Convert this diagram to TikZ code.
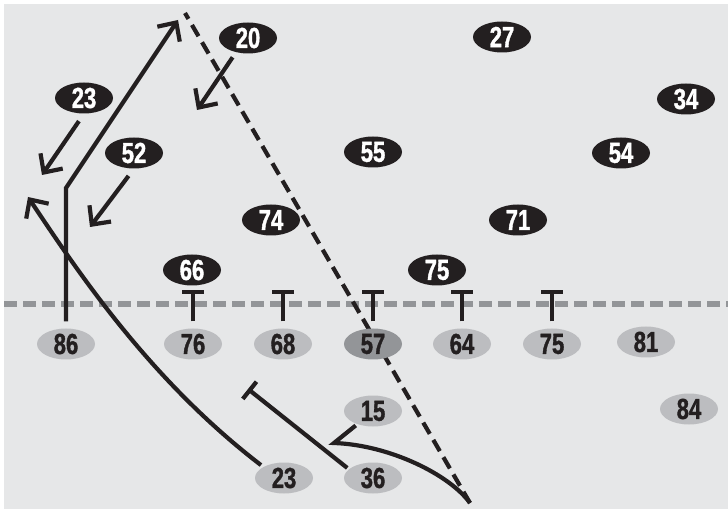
\documentclass[tikz,border=0pt]{standalone}
\usepackage{fontspec}
\usepackage{xcolor}
\definecolor{fieldgray}{RGB}{230, 231, 232}
\definecolor{playergray}{RGB}{188, 189, 192}
\definecolor{snapgray}{RGB}{147, 149, 152}
\definecolor{inkblack}{RGB}{35, 31, 32}
\newfontfamily\numfont[FakeStretch=0.76, FakeBold=1.2]{Liberation Sans}
\usetikzlibrary{arrows.meta, shapes.geometric, calc}

\begin{document}
\begin{tikzpicture}[
    x=1pt, y=-1pt,
    man/.style={ellipse, inner sep=0pt, minimum width=58pt, minimum height=31pt, font=\numfont\bfseries\fontsize{29}{29}\selectfont},
    defender/.style={man, fill=inkblack, text=white},
    player/.style={man, fill=playergray, text=inkblack},
    snapper/.style={man, fill=snapgray, text=inkblack},
    route/.style={draw=inkblack, line width=4.2pt, -{Straight Barb[length=14pt, width=27pt]}},
    block/.style={draw=inkblack, line width=4.2pt, -{Bar[width=22pt, line width=4.2pt]}},
    pass/.style={draw=inkblack, line width=4.2pt, dash pattern=on 13pt off 7pt},
    scrimmage/.style={draw=snapgray, line width=6pt, dash pattern=on 13pt off 6pt}
]

% Field
\useasboundingbox (0,0) rectangle (728,510);
\fill[white] (0,0) rectangle (728,510);
\fill[fieldgray] (4,4) rectangle (728,509);
\draw[scrimmage] (4,304) -- (728,304);

% Free ends
\coordinate (brk) at (66,188);
\coordinate (deep) at (178,20);
\coordinate (target) at (185,13);
\coordinate (qb) at (470,503);
\coordinate (kink) at (334,443);
\coordinate (flat) at (28,197);
\coordinate (lead) at (248,389);
\coordinate (z20) at (197,110);
\coordinate (z23) at (42,175);
\coordinate (z52) at (90,227);

% Pass lane
\draw[pass] (qb) -- (target);

% Defense
\node[defender] (d20) at (248,38) {20};
\node[defender] (d27) at (502,37) {27};
\node[defender] (d23) at (84,98) {23};
\node[defender] (d34) at (686,99) {34};
\node[defender] (d52) at (134,153) {52};
\node[defender] (d55) at (373,152) {55};
\node[defender] (d54) at (621,153) {54};
\node[defender] (d74) at (271,220) {74};
\node[defender] (d71) at (518,220) {71};
\node[defender] (d66) at (192,270) {66};
\node[defender] (d75) at (437,270) {75};

% Offense
\node[player] (o86) at (66,344) {86};
\node[player] (o76) at (193,344) {76};
\node[player] (o68) at (283,344) {68};
\node[snapper] (o57) at (373,344) {57};
\node[player] (o64) at (462,344) {64};
\node[player] (o75) at (552,344) {75};
\node[player] (o81) at (646,342) {81};
\node[player] (o84) at (689,409) {84};
\node[player] (o15) at (373,411) {15};
\node[player] (o23) at (284,478) {23};
\node[player] (o36) at (373,478) {36};

% Line blocks
\foreach \p in {o76, o68, o57, o64, o75} {
    \coordinate (\p-blk) at ([yshift=38pt]\p.north);
    \draw[block, shorten <=7pt] (\p.north) -- (\p-blk);
}

% Drops
\draw[route, shorten <=6pt] (d20.-130) -- (z20);
\draw[route, shorten <=9pt] (d23.south) -- (z23);
\draw[route, shorten <=9pt] (d52.south) -- (z52);

% Routes
\draw[route, shorten <=7pt] (o86.north) -- (brk) -- (deep);
\draw[route, shorten <=3pt] (o23.north west) .. controls (150,380) and (78,272) .. (flat);
\draw[block, shorten <=2pt] (o36.160) -- (lead);
\draw[draw=inkblack, line width=4.2pt, shorten <=2pt] (o15.220) -- (kink) .. controls (390,445) and (450,475) .. (qb);

\end{tikzpicture}
\end{document}
